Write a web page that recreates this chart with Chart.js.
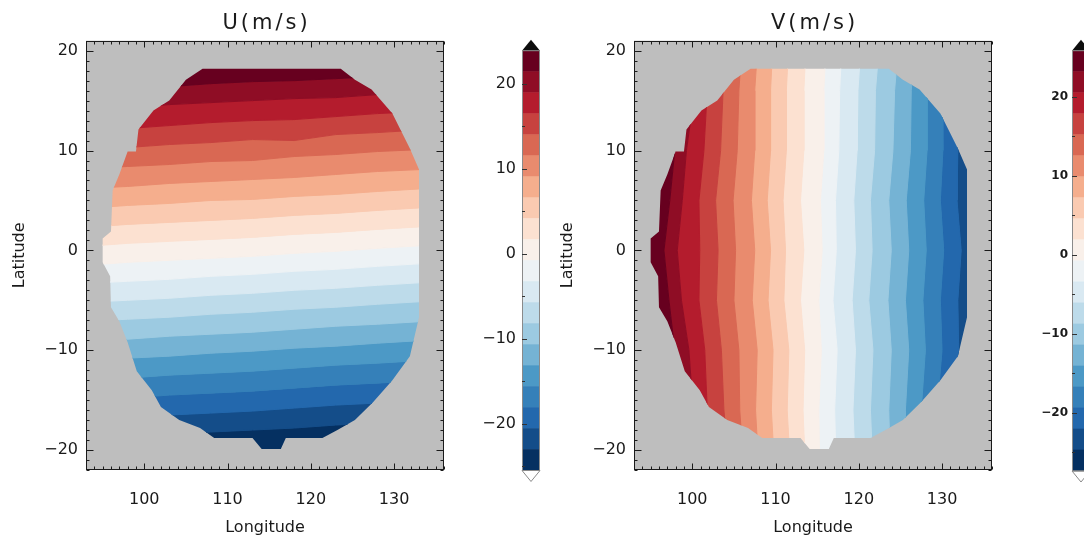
<!DOCTYPE html>
<html>
<head>
<meta charset="utf-8">
<script src="https://cdn.jsdelivr.net/npm/chart.js@4.4.1/dist/chart.umd.min.js"></script>
<style>
  html, body { margin: 0; padding: 0; background: #fff; width: 1084px; height: 542px; overflow: hidden; }
  canvas { position: absolute; top: 0; }
  #uMap { left: 0; }
  #uBar { left: 470px; }
  #vMap { left: 548px; }
  #vBar { left: 1020px; }
</style>
</head>
<body>
<canvas id="uMap" width="470" height="542"></canvas>
<canvas id="uBar" width="90" height="542"></canvas>
<canvas id="vMap" width="470" height="542"></canvas>
<canvas id="vBar" width="90" height="542"></canvas>
<script>
/* ========= AXES ========= */
const lonRange = [93, 136];
const latRange = [-22, 21];
const lonTicks = [100, 110, 120, 130];
const latTicks = [-20, -10, 0, 10, 20];

/* ========= COLOUR LEVELS (m/s), 20 bins per bar ========= */
const uBarLevels = [-25.5, -23.03, -20.56, -18.09, -15.62, -13.15, -10.68, -8.21, -5.74, -3.27, -0.8,
                    1.67, 4.14, 6.61, 9.08, 11.55, 14.02, 16.49, 18.96, 21.43, 23.9];
const vBarLevels = [-27.4, -24.74, -22.08, -19.42, -16.76, -14.1, -11.44, -8.78, -6.12, -3.46, -0.8,
                    1.86, 4.52, 7.18, 9.84, 12.5, 15.16, 17.82, 20.48, 23.14, 25.8];
const barColors = ['#053061', '#144d89', '#2368ad', '#3580b9', '#4c99c6', '#75b3d4', '#9ccae1',
                   '#bddbea', '#d9e9f2', '#edf2f5', '#f9f0ea', '#fce1d1', '#facab1', '#f5ae8d',
                   '#e98b6e', '#d96853', '#c7423f', '#b41c2d', '#8f0d25', '#67001f'];
const barTicks = [-20, -10, 0, 10, 20];
const barMinorTicks = [-25, -15, -5, 5, 15];

/* ========= DATA FOOTPRINT (lon, lat) ========= */
const maskLon = [107, 123.6, 125.3, 127.3, 129.8, 131.9, 133, 133, 131.9, 129.8, 127.5, 125.3,
                 123.2, 121.4, 117, 116.4, 114.1, 113, 108.4, 106.7, 104.2, 102, 100.9, 99.1,
                 98, 97, 96, 95.9, 95, 95, 96, 96.2, 97, 98, 99, 99.3, 101.1, 103, 105];
const maskLat = [18.2, 18.2, 17.1, 16.1, 13.7, 10.2, 8.1, -6.7, -10.6, -13, -15.2, -17,
                 -18, -18.8, -18.8, -19.9, -19.9, -18.8, -18.8, -17.8, -17, -15.7, -14, -12.1,
                 -9.2, -7.1, -5.7, -2.6, -1.2, 1.2, 1.9, 6, 7.6, 9.9, 9.9, 12.1, 14, 15, 17.1];

/* ========= U: latitude of each contour, sampled along uLon ========= */
const uLon = [93, 98, 103, 108, 113, 118, 123, 128, 136];
const uLevels = [21.43, 18.96, 16.49, 14.02, 11.55, 9.08, 6.61, 4.14, 1.67, -0.8,
                 -3.27, -5.74, -8.21, -10.68, -13.15, -15.62, -18.09, -20.56, -23.03];
const uLat = [
  [15.9, 16.1, 16.4, 16.7, 16.9, 17.0, 17.2, 17.4, 17.7],
  [14.1, 14.3, 14.6, 14.8, 15.0, 15.2, 15.3, 15.6, 15.9],
  [12.0, 12.2, 12.5, 12.8, 13.0, 13.1, 13.4, 13.7, 14.0],
  [10.1, 10.3, 10.6, 10.8, 11.1, 11.0, 11.6, 11.8, 12.2],
  [8.2, 8.4, 8.6, 8.9, 9.0, 9.4, 9.6, 9.9, 10.2],
  [6.2, 6.4, 6.7, 6.9, 7.1, 7.3, 7.6, 7.9, 8.2],
  [4.2, 4.5, 4.7, 5.0, 5.1, 5.4, 5.6, 5.9, 6.3],
  [2.3, 2.6, 2.8, 3.0, 3.2, 3.5, 3.7, 4.0, 4.4],
  [0.4, 0.7, 0.9, 1.1, 1.3, 1.6, 1.8, 2.1, 2.5],
  [-1.5, -1.2, -1.0, -0.8, -0.6, -0.3, -0.1, 0.2, 0.6],
  [-3.3, -3.1, -2.9, -2.6, -2.4, -2.1, -1.9, -1.6, -1.2],
  [-5.2, -5.0, -4.8, -4.5, -4.3, -4.0, -3.8, -3.5, -3.1],
  [-7.1, -6.9, -6.7, -6.4, -6.2, -5.9, -5.7, -5.4, -5.0],
  [-9.1, -8.9, -8.6, -8.4, -8.2, -7.9, -7.6, -7.4, -7.0],
  [-11.0, -10.8, -10.6, -10.3, -10.1, -9.8, -9.6, -9.3, -8.9],
  [-13.0, -12.8, -12.5, -12.3, -12.1, -11.8, -11.5, -11.3, -10.9],
  [-15.0, -14.8, -14.5, -14.3, -14.1, -13.8, -13.5, -13.3, -12.9],
  [-17.0, -16.8, -16.5, -16.3, -16.1, -15.8, -15.5, -15.3, -14.9],
  [-18.9, -18.7, -18.4, -18.2, -18.0, -17.8, -17.5, -17.3, -16.9]
];

/* ========= V: longitude of each contour, sampled along vLat ========= */
const vLat = [-22, -16, -10, -5, 0, 5, 10, 16, 21];
const vLevels = [23.14, 20.48, 17.82, 15.16, 12.5, 9.84, 7.18, 4.52, 1.86, -0.8,
                 -3.46, -6.12, -8.78, -11.44, -14.1, -16.76, -19.42, -22.08];
const vLon = [
  [99.5, 98.8, 97.9, 97.2, 96.6, 97.3, 97.9, 98.8, 99.5],
  [101.0, 100.1, 99.6, 98.7, 98.2, 98.8, 99.3, 100.3, 100.9],
  [102.6, 101.8, 101.5, 100.8, 100.9, 100.8, 101.4, 101.8, 102.5],
  [104.5, 103.8, 103.5, 102.9, 103.1, 102.8, 103.4, 103.7, 104.3],
  [106.2, 105.7, 105.6, 105.0, 105.2, 104.9, 105.4, 105.6, 106.0],
  [108.0, 107.6, 107.8, 107.2, 107.5, 107.1, 107.5, 107.5, 107.9],
  [109.9, 109.5, 109.7, 109.1, 109.4, 109.0, 109.4, 109.4, 109.7],
  [111.8, 111.4, 111.6, 111.0, 111.2, 110.9, 111.3, 111.3, 111.6],
  [113.6, 113.3, 113.5, 113.0, 113.4, 113.0, 113.4, 113.4, 113.7],
  [115.3, 115.2, 115.5, 115.2, 115.6, 115.4, 115.8, 115.8, 116.1],
  [117.3, 117.1, 117.4, 116.9, 117.3, 117.2, 117.6, 117.7, 118.0],
  [119.6, 119.3, 119.6, 119.2, 119.6, 119.4, 119.8, 119.9, 120.3],
  [121.7, 121.4, 121.7, 121.2, 121.6, 121.4, 121.9, 122.0, 122.5],
  [123.8, 123.6, 123.9, 123.5, 123.9, 123.6, 124.1, 124.3, 124.8],
  [125.8, 125.6, 126.0, 125.6, 126.0, 125.7, 126.2, 126.3, 126.8],
  [127.6, 127.5, 128.0, 127.7, 128.1, 127.8, 128.2, 128.2, 128.6],
  [129.3, 129.4, 130.0, 129.8, 130.2, 129.8, 130.1, 130.0, 130.3],
  [131.0, 131.2, 132.0, 131.9, 132.3, 131.8, 131.9, 131.5, 131.5]
];

/* ========= HELPERS ========= */
const FONT = '"DejaVu Sans", sans-serif';
const INK = '#1a1a1a';
Chart.defaults.font.family = FONT;
Chart.defaults.color = INK;

const minusFmt = v => (v < 0 ? '\u2212' + Math.abs(v) : String(v));
const last = arr => arr[arr.length - 1];

// colour of the bin whose upper edge is `upper`
const colorAbove = (levels, upper) => barColors[levels.indexOf(upper) - 1];

const bandStyle = c => ({
  showLine: true, fill: 'shape', backgroundColor: c, borderColor: c,
  borderWidth: 1, pointRadius: 0, tension: 0
});

// zonal bands: each polygon lies between two latitude contours
function uBands() {
  const top = uLon.map(() => latRange[1]);
  const bottom = uLon.map(() => latRange[0]);
  const rows = [top, ...uLat, bottom];
  const uppers = [last(uBarLevels), ...uLevels];
  return uppers.map((upper, i) => {
    const lower = uLon.map((x, j) => ({ x, y: rows[i + 1][j] }));
    const upperEdge = uLon.map((x, j) => ({ x, y: rows[i][j] })).reverse();
    return { data: [...lower, ...upperEdge], ...bandStyle(colorAbove(uBarLevels, upper)) };
  });
}

// meridional bands: each polygon lies between two longitude contours
function vBands() {
  const west = vLat.map(() => lonRange[0]);
  const east = vLat.map(() => lonRange[1]);
  const rows = [west, ...vLon, east];
  const uppers = [last(vBarLevels), ...vLevels];
  return uppers.map((upper, i) => {
    const left = vLat.map((y, j) => ({ x: rows[i][j], y }));
    const right = vLat.map((y, j) => ({ x: rows[i + 1][j], y })).reverse();
    return { data: [...left, ...right], ...bandStyle(colorAbove(vBarLevels, upper)) };
  });
}

/* ========= PLUGINS ========= */
const mapFrame = {
  id: 'mapFrame',
  beforeDraw(chart, args, opts) {
    const { ctx, chartArea: a } = chart;
    ctx.save();
    ctx.fillStyle = opts.background;
    ctx.fillRect(a.left, a.top, a.right - a.left, a.bottom - a.top);
    ctx.restore();
  },
  beforeDatasetsDraw(chart) {
    // only draw the field inside the observed footprint
    const { ctx, scales: { x, y } } = chart;
    ctx.save();
    ctx.beginPath();
    maskLon.forEach((lon, i) => {
      const px = x.getPixelForValue(lon), py = y.getPixelForValue(maskLat[i]);
      if (i) ctx.lineTo(px, py); else ctx.moveTo(px, py);
    });
    ctx.closePath();
    ctx.clip();
  },
  afterDatasetsDraw(chart) {
    chart.ctx.restore();
  },
  afterDraw(chart, args, opts) {
    const { ctx, chartArea: a, scales: { x, y } } = chart;
    ctx.save();
    ctx.strokeStyle = INK;
    ctx.lineWidth = 1;
    const L = Math.round(a.left) + 0.5, R = Math.round(a.right) - 0.5;
    const T = Math.round(a.top) + 0.5, B = Math.round(a.bottom) - 0.5;
    ctx.strokeRect(L, T, R - L, B - T);

    // inward ticks on all four sides, every degree
    ctx.beginPath();
    for (let lon = Math.ceil(lonRange[0]); lon <= lonRange[1]; lon++) {
      const px = Math.round(x.getPixelForValue(lon)) + 0.5;
      const len = lon % 10 === 0 ? 6 : 3;
      ctx.moveTo(px, B); ctx.lineTo(px, B - len);
      ctx.moveTo(px, T); ctx.lineTo(px, T + len);
    }
    for (let lat = Math.ceil(latRange[0]); lat <= latRange[1]; lat++) {
      const py = Math.round(y.getPixelForValue(lat)) + 0.5;
      const len = lat % 10 === 0 ? 7 : 3;
      ctx.moveTo(L, py); ctx.lineTo(L + len, py);
      ctx.moveTo(R, py); ctx.lineTo(R - len, py);
    }
    ctx.stroke();

    // panel title
    ctx.fillStyle = INK;
    ctx.font = '21px ' + FONT;
    ctx.letterSpacing = '3px';
    ctx.textAlign = 'center';
    ctx.textBaseline = 'alphabetic';
    ctx.fillText(opts.title, (a.left + a.right) / 2 + 1.5, 29);
    ctx.restore();
  }
};

const barEnds = {
  id: 'barEnds',
  afterDatasetsDraw(chart, args, opts) {
    const { ctx, chartArea: a, scales: { y } } = chart;
    const l = a.left, r = a.right, m = (l + r) / 2;
    const top = a.top, bot = a.bottom;
    ctx.save();
    ctx.lineWidth = 1;
    // out-of-range caps
    ctx.beginPath();
    ctx.moveTo(l, top); ctx.lineTo(m, top - opts.cap); ctx.lineTo(r, top); ctx.closePath();
    ctx.fillStyle = '#0d0d0d';
    ctx.fill();
    ctx.beginPath();
    ctx.moveTo(l, bot); ctx.lineTo(m, bot + opts.cap); ctx.lineTo(r, bot); ctx.closePath();
    ctx.fillStyle = '#ffffff';
    ctx.fill();
    ctx.strokeStyle = '#8a8a8a';
    ctx.stroke();
    ctx.strokeRect(l + 0.5, top, r - l - 1, bot - top);
    // ticks on the left edge
    ctx.strokeStyle = '#333';
    ctx.beginPath();
    [...barTicks, ...barMinorTicks].forEach(v => {
      if (v < y.min || v > y.max) return;
      const py = Math.round(y.getPixelForValue(v)) + 0.5;
      ctx.moveTo(l, py); ctx.lineTo(l + (barTicks.includes(v) ? 5 : 3), py);
    });
    ctx.stroke();
    ctx.restore();
  }
};

/* ========= CHARTS ========= */
function mapChart(id, datasets, title) {
  return new Chart(document.getElementById(id), {
    type: 'scatter',
    data: { datasets },
    options: {
      responsive: false, animation: false, events: [],
      layout: { padding: { left: 4, right: 26, top: 40.7, bottom: 1 } },
      plugins: {
        legend: { display: false }, tooltip: { enabled: false },
        mapFrame: { title, background: '#bebebe' }
      },
      scales: {
        x: {
          type: 'linear', min: lonRange[0], max: lonRange[1],
          afterBuildTicks: s => { s.ticks = lonTicks.map(value => ({ value })); },
          afterFit: s => { s.height = 71; },
          grid: { display: false, drawTicks: false }, border: { display: false },
          ticks: { padding: 20, autoSkip: false, maxRotation: 0, font: { size: 16 }, callback: minusFmt },
          title: { display: true, text: 'Longitude', font: { size: 16 }, padding: { top: 0, bottom: 4 } }
        },
        y: {
          type: 'linear', min: latRange[0], max: latRange[1],
          afterBuildTicks: s => { s.ticks = latTicks.map(value => ({ value })); },
          afterFit: s => { s.width = 82; },
          grid: { display: false, drawTicks: false }, border: { display: false },
          ticks: { padding: 8, autoSkip: false, font: { size: 16 }, callback: minusFmt },
          title: { display: true, text: 'Latitude', font: { size: 16 }, padding: { top: 6, bottom: 0 } }
        }
      }
    },
    plugins: [mapFrame]
  });
}

function barChart(id, levels, font, pad) {
  const datasets = barColors.map((c, i) => ({
    data: [
      { x: 0, y: levels[i] }, { x: 1, y: levels[i] },
      { x: 1, y: levels[i + 1] }, { x: 0, y: levels[i + 1] }
    ],
    ...bandStyle(c), borderWidth: 0.6
  }));
  return new Chart(document.getElementById(id), {
    type: 'scatter',
    data: { datasets },
    options: {
      responsive: false, animation: false, events: [],
      layout: { padding: { left: 0, right: 20, top: pad.top, bottom: pad.bottom } },
      plugins: { legend: { display: false }, tooltip: { enabled: false }, barEnds: { cap: 11 } },
      scales: {
        x: { type: 'linear', min: 0, max: 1, display: false },
        y: {
          type: 'linear', min: levels[0], max: last(levels),
          afterBuildTicks: s => { s.ticks = barTicks.map(value => ({ value })); },
          afterFit: s => { s.width = 52; },
          grid: { display: false, drawTicks: false }, border: { display: false },
          ticks: { padding: pad.label, autoSkip: false, font, callback: minusFmt }
        }
      }
    },
    plugins: [barEnds]
  });
}

mapChart('uMap', uBands(), 'U(m/s)');
mapChart('vMap', vBands(), 'V(m/s)');
barChart('uBar', uBarLevels, { size: 16 }, { top: 50.7, bottom: 71.5, label: 6 });
barChart('vBar', vBarLevels, { size: 12, weight: 'bold' }, { top: 50.7, bottom: 71, label: 4 });
</script>
</body>
</html>
